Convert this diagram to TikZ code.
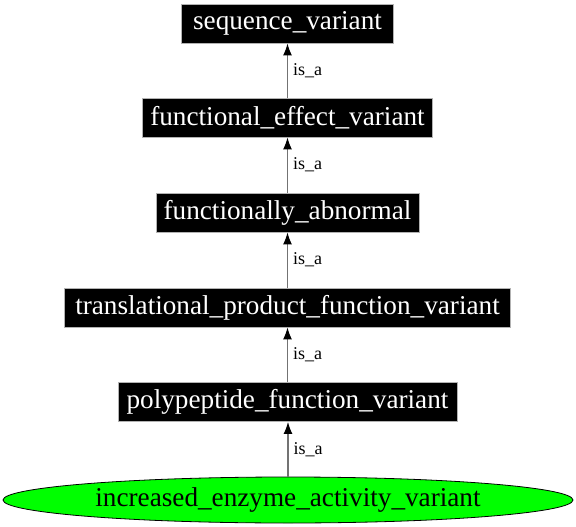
\documentclass[tikz,border=0pt]{standalone}
\usepackage{fontspec}
\setmainfont{Liberation Serif}
\usetikzlibrary{shapes.geometric,arrows.meta}
\begin{document}
\begin{tikzpicture}[x=1pt,y=-1pt,
  term/.style={fill=black,draw=gray!60,line width=0.8pt,text=white,font=\fontsize{27.2}{30}\selectfont,inner sep=0pt,minimum height=39pt},
  leaf/.style={ellipse,fill=green,draw=black,line width=0.8pt,font=\fontsize{27.2}{30}\selectfont,inner sep=0pt,minimum width=570pt,minimum height=46pt},
  isa/.style={draw=black!55,line width=1.3pt,-{Latex[length=12pt,width=9pt,color=black]}},
  lbl/.style={font=\fontsize{18}{20}\selectfont,anchor=west,inner sep=0pt}]
\useasboundingbox (0,0) rectangle (576,527);
\node[term,minimum width=212pt] (sv) at (287.5,23.5) {sequence\_variant};
\node[term,minimum width=290pt] (fev) at (287.5,117.5) {functional\_effect\_variant};
\node[term,minimum width=263pt] (fa) at (287.5,212.5) {functionally\_abnormal};
\node[term,minimum width=446pt] (tpfv) at (287.5,307.5) {translational\_product\_function\_variant};
\node[term,minimum width=339pt] (pfv) at (287.5,402) {polypeptide\_function\_variant};
\node[leaf] (iea) at (288,500) {increased\_enzyme\_activity\_variant};
\draw[isa] (fev.north) -- node[lbl,xshift=5pt] {is\_a} (sv.south);
\draw[isa] (fa.north) -- node[lbl,xshift=5pt] {is\_a} (fev.south);
\draw[isa] (tpfv.north) -- node[lbl,xshift=5pt] {is\_a} (fa.south);
\draw[isa] (pfv.north) -- node[lbl,xshift=5pt] {is\_a} (tpfv.south);
\draw[isa] (iea.north) -- node[lbl,xshift=5pt] {is\_a} (iea.north |- pfv.south);
\end{tikzpicture}
\end{document}
